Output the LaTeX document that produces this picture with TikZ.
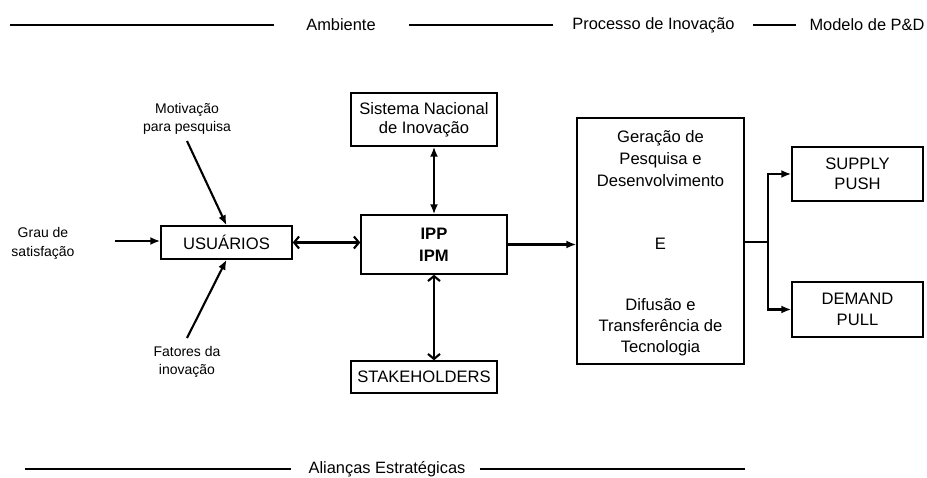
\documentclass[tikz,border=0pt]{standalone}
\usepackage{fontspec}
\setmainfont{Liberation Sans}
\usetikzlibrary{arrows.meta}
\begin{document}
\begin{tikzpicture}[x=1pt,y=-1pt,
  box/.style={draw,line width=1.4pt,inner sep=0pt,align=center,
    font=\fontsize{16.6}{21}\selectfont},
  lbl/.style={inner sep=0pt,align=center,font=\fontsize{14}{18}\selectfont},
  hdr/.style={inner sep=0pt,font=\fontsize{16.4}{20}\selectfont},
  rule/.style={line width=1.6pt},
  arr/.style={line width=2.1pt,-{Latex[length=10pt,width=8pt]}},
  biarr/.style={line width=2.1pt,{Latex[length=10pt,width=8pt]}-{Latex[length=10pt,width=8pt]}},
  barb/.style={line width=2.1pt,{Straight Barb[length=5pt,width=12pt]}-{Straight Barb[length=5pt,width=12pt]}},
  link/.style={line width=2.1pt}]
\useasboundingbox (0,0) rectangle (927,478);

% header row
\node[hdr] (amb) at (341,25) {Ambiente};
\node[hdr] (proc) at (653.5,25) {Processo de Inovação};
\node[hdr] (mod) at (867,25) {Modelo de P\&D};
\coordinate (t0) at (10,25);
\draw[rule] (t0) -- ([xshift=-32pt]amb.west);
\draw[rule] ([xshift=33pt]amb.east) -- ([xshift=-19pt]proc.west);
\draw[rule] ([xshift=18pt]proc.east) -- ([xshift=-13pt]mod.west);

% footer row
\node[hdr] (ali) at (387,469) {Alianças Estratégicas};
\coordinate (b0) at (25,469);
\coordinate (b1) at (745,469);
\draw[rule] (b0) -- ([xshift=-17pt]ali.west);
\draw[rule] ([xshift=14pt]ali.east) -- (b1);

% boxes
\node[box,minimum width=131pt,minimum height=33pt] (usu) at (226.5,242.5) {USUÁRIOS};
\node[box,minimum width=146pt,minimum height=53pt,
  font=\fontsize{16.6}{19}\selectfont] (sni) at (424,119.5) {Sistema Nacional\\de Inovação};
\node[box,minimum width=146pt,minimum height=59pt,
  font=\fontsize{16.6}{22}\selectfont\bfseries] (ipp) at (434,244.5) {IPP\\IPM};
\node[box,minimum width=146pt,minimum height=32pt] (stk) at (424,377) {STAKEHOLDERS};
\node[box,minimum width=167pt,minimum height=246pt] (big) at (660.5,241) {};
\node[box,draw=none,font=\fontsize{16.6}{22}\selectfont] (gen) at (660.5,159) {Geração de\\Pesquisa e\\Desenvolvimento};
\node[box,draw=none,font=\fontsize{16.6}{22}\selectfont] (eee) at (660.5,244) {E};
\node[box,draw=none,font=\fontsize{16.6}{21}\selectfont] (dif) at (660.5,327) {Difusão e\\Transferência de\\Tecnologia};
\node[box,minimum width=131pt,minimum height=54pt,
  font=\fontsize{16.6}{20}\selectfont] (sup) at (857.5,174) {SUPPLY\\PUSH};
\node[box,minimum width=131pt,minimum height=55pt,
  font=\fontsize{16.6}{21}\selectfont] (dem) at (857.5,309.5) {DEMAND\\PULL};

% side labels
\node[lbl] (mot) at (187,119) {Motivação\\para pesquisa};
\node[lbl,font=\fontsize{14}{19}\selectfont] (grau) at (43,243) {Grau de\\satisfação};
\node[lbl] (fat) at (187,362) {Fatores da\\inovação};

% inputs to USUÁRIOS
\coordinate (motend) at (187,141);
\coordinate (fatend) at (187,338);
\coordinate (grauend) at (115,241);
\draw[arr] (motend) -- (usu.north);
\draw[arr] (fatend) -- (usu.south);
\draw[arr] (grauend) -- (grauend -| usu.west);

% links around IPP / IPM
\draw[barb] (usu.east) -- (usu.east -| ipp.west);
\draw[biarr] (ipp.north) -- (ipp.north |- sni.south);
\draw[barb] (ipp.south) -- (ipp.south |- stk.north);
\draw[arr] (ipp.east) -- (ipp.east -| big.west);

% split towards the P&D models
\coordinate (split) at (768,242);
\draw[link] (big.east |- split) -- (split);
\draw[arr] (split) |- (sup.west);
\draw[arr] (split) |- (dem.west);
\end{tikzpicture}
\end{document}
